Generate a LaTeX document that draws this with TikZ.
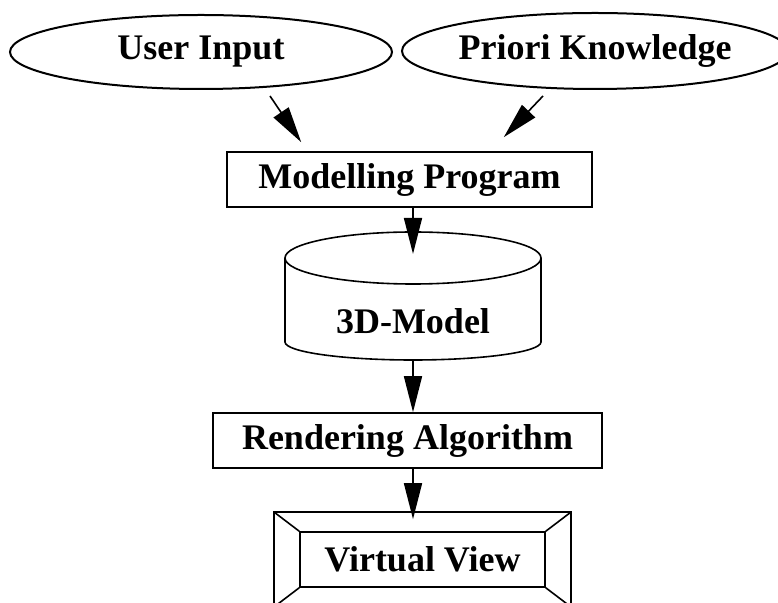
\documentclass[tikz,border=0pt]{standalone}
\usepackage{fontspec}
\setmainfont{Liberation Serif}
\usetikzlibrary{positioning,shapes.geometric,arrows.meta}
\tikzset{x=1pt, y=1pt,
  txt/.style={font=\fontsize{36}{40}\selectfont\bfseries, inner sep=0pt},
  oval/.style={txt, draw, ellipse, line width=2pt},
  box/.style={txt, draw, rectangle, line width=1.6pt},
  arr/.style={-{Triangle[length=36pt,width=18pt]}, line width=1.6pt}}

\begin{document}
\begin{tikzpicture}
  \useasboundingbox (0,0) rectangle (778,602);
  \node[oval, minimum width=382pt, minimum height=74pt] (user) at (201,550) {User Input};
  \node[oval, minimum width=362pt, minimum height=76pt] (priori) at (595,551) {Priori Knowledge};
  \node[box, minimum width=365pt, minimum height=55pt] (prog) at (409.5,422.5) {Modelling Program};

  % cylinder holding the model
  \node[txt] (model) at (413,281) {3D-Model};
  \coordinate (cyltop) at (413,344);
  \coordinate (cylbot) at (413,242);
  \draw[line width=1.6pt] (cyltop) ellipse [x radius=128, y radius=26];
  \draw[line width=1.6pt] (285,344) -- (285,260)
    arc[start angle=180, end angle=360, x radius=128, y radius=18] -- (541,344);

  \node[box, minimum width=389pt, minimum height=55pt] (render) at (407.5,161.5) {Rendering Algorithm};
  \node[box, minimum width=245pt, minimum height=55pt] (view) at (422.5,42.5) {Virtual View};

  % bevelled frame round the view
  \coordinate (fsw) at ([shift={(-25,-19)}]view.south west);
  \coordinate (fse) at ([shift={(25,-19)}]view.south east);
  \coordinate (fne) at ([shift={(25,19)}]view.north east);
  \coordinate (fnw) at ([shift={(-25,19)}]view.north west);
  \draw[line width=1.6pt] (fsw) rectangle (fne);
  \draw[line width=1.6pt]
    (fsw) -- (view.south west)
    (fse) -- (view.south east)
    (fne) -- (view.north east)
    (fnw) -- (view.north west);

  \draw[arr] ([shift={(69,-6)}]user.south) -- ([shift={(75,9)}]prog.north west);
  \draw[arr] ([shift={(-52,-6)}]priori.south) -- ([shift={(-89,14)}]prog.north east);
  \draw[arr, shorten >=4pt] (cyltop |- prog.south) -- (cyltop);
  \draw[arr] (cylbot) -- (cylbot |- render.north);
  \draw[arr] (cylbot |- render.south) -- ([yshift=12pt]view.north -| cylbot);
\end{tikzpicture}
\end{document}
